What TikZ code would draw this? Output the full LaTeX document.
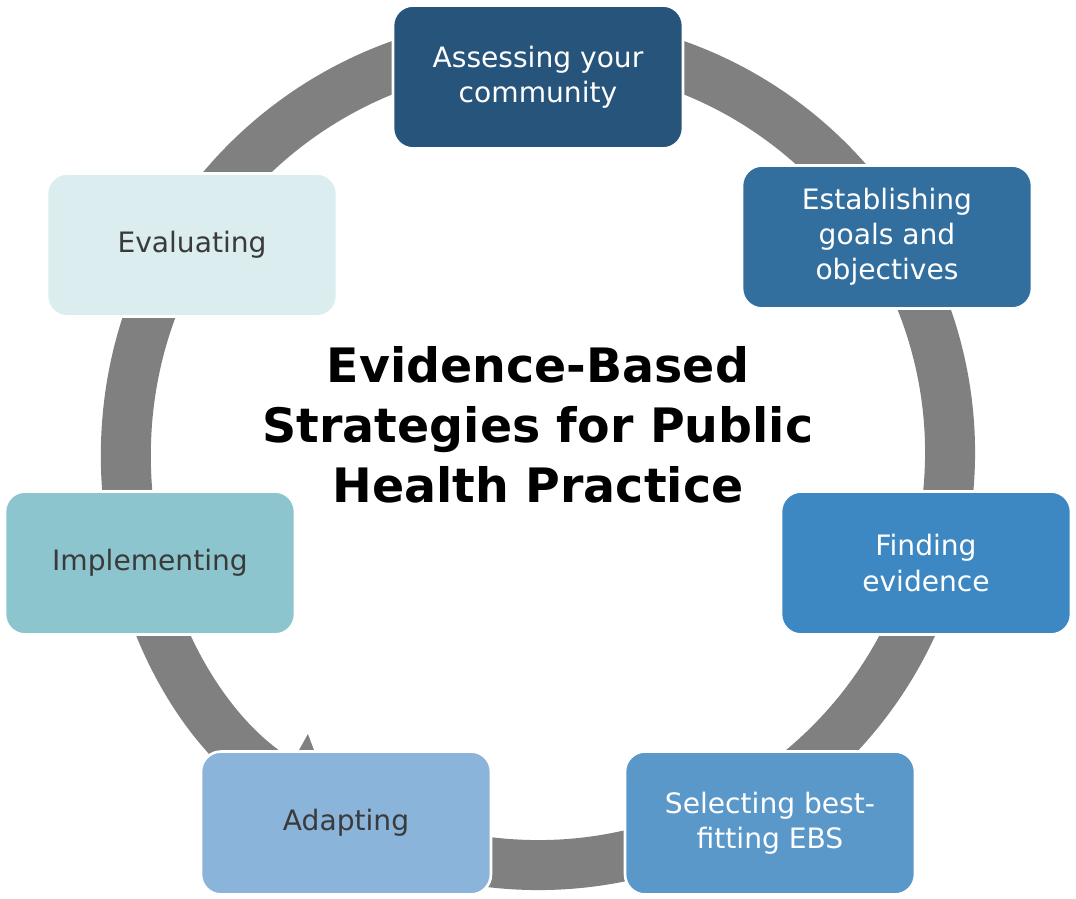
\documentclass[tikz,border=0pt]{standalone}
\usepackage{fontspec}
\setmainfont{DejaVu Sans}
\usetikzlibrary{arrows.meta}
\definecolor{ringgray}{HTML}{808080}
\definecolor{stepA}{HTML}{27547A}
\definecolor{stepB}{HTML}{336F9E}
\definecolor{stepC}{HTML}{3D88C2}
\definecolor{stepD}{HTML}{5A98CA}
\definecolor{stepE}{HTML}{8AB4D9}
\definecolor{stepF}{HTML}{8CC5CE}
\definecolor{stepG}{HTML}{DBEDEF}
\definecolor{darktext}{HTML}{3A3A3A}
\begin{document}
\begin{tikzpicture}[x=0.02cm, y=-0.02cm,
	stage/.style={draw=white, line width=1.5pt, rounded corners=0.4cm, minimum width=5.8cm,
		minimum height=2.86cm, align=center, font=\fontsize{16}{20}\selectfont, text=white},
	light/.style={stage, text=darktext},
	title/.style={align=center, font=\fontsize{27}{34}\selectfont\bfseries}]
	\useasboundingbox (0,0) rectangle (1076,899);
	% ring with arrow
	\draw[ringgray, line width=1cm, -{Triangle[width=2.1cm, length=1.3cm]}]
		(538,453) ++(100:412) arc[start angle=100, end angle=-241, radius=412];
	\node[stage, fill=stepA] (assess) at (538,77) {Assessing your\\community};
	\node[stage, fill=stepB] (goals) at (887,237) {Establishing\\goals and\\objectives};
	\node[stage, fill=stepC] (find) at (926,563) {Finding\\evidence};
	\node[stage, fill=stepD] (select) at (770,823) {Selecting best-\\fitting EBS};
	\node[light, fill=stepE] (adapt) at (346,823) {Adapting};
	\node[light, fill=stepF] (impl) at (150,563) {Implementing};
	\node[light, fill=stepG] (eval) at (192,245) {Evaluating};
	\node[title] (ebs) at (538,425) {Evidence-Based\\Strategies for Public\\Health Practice};
\end{tikzpicture}
\end{document}
